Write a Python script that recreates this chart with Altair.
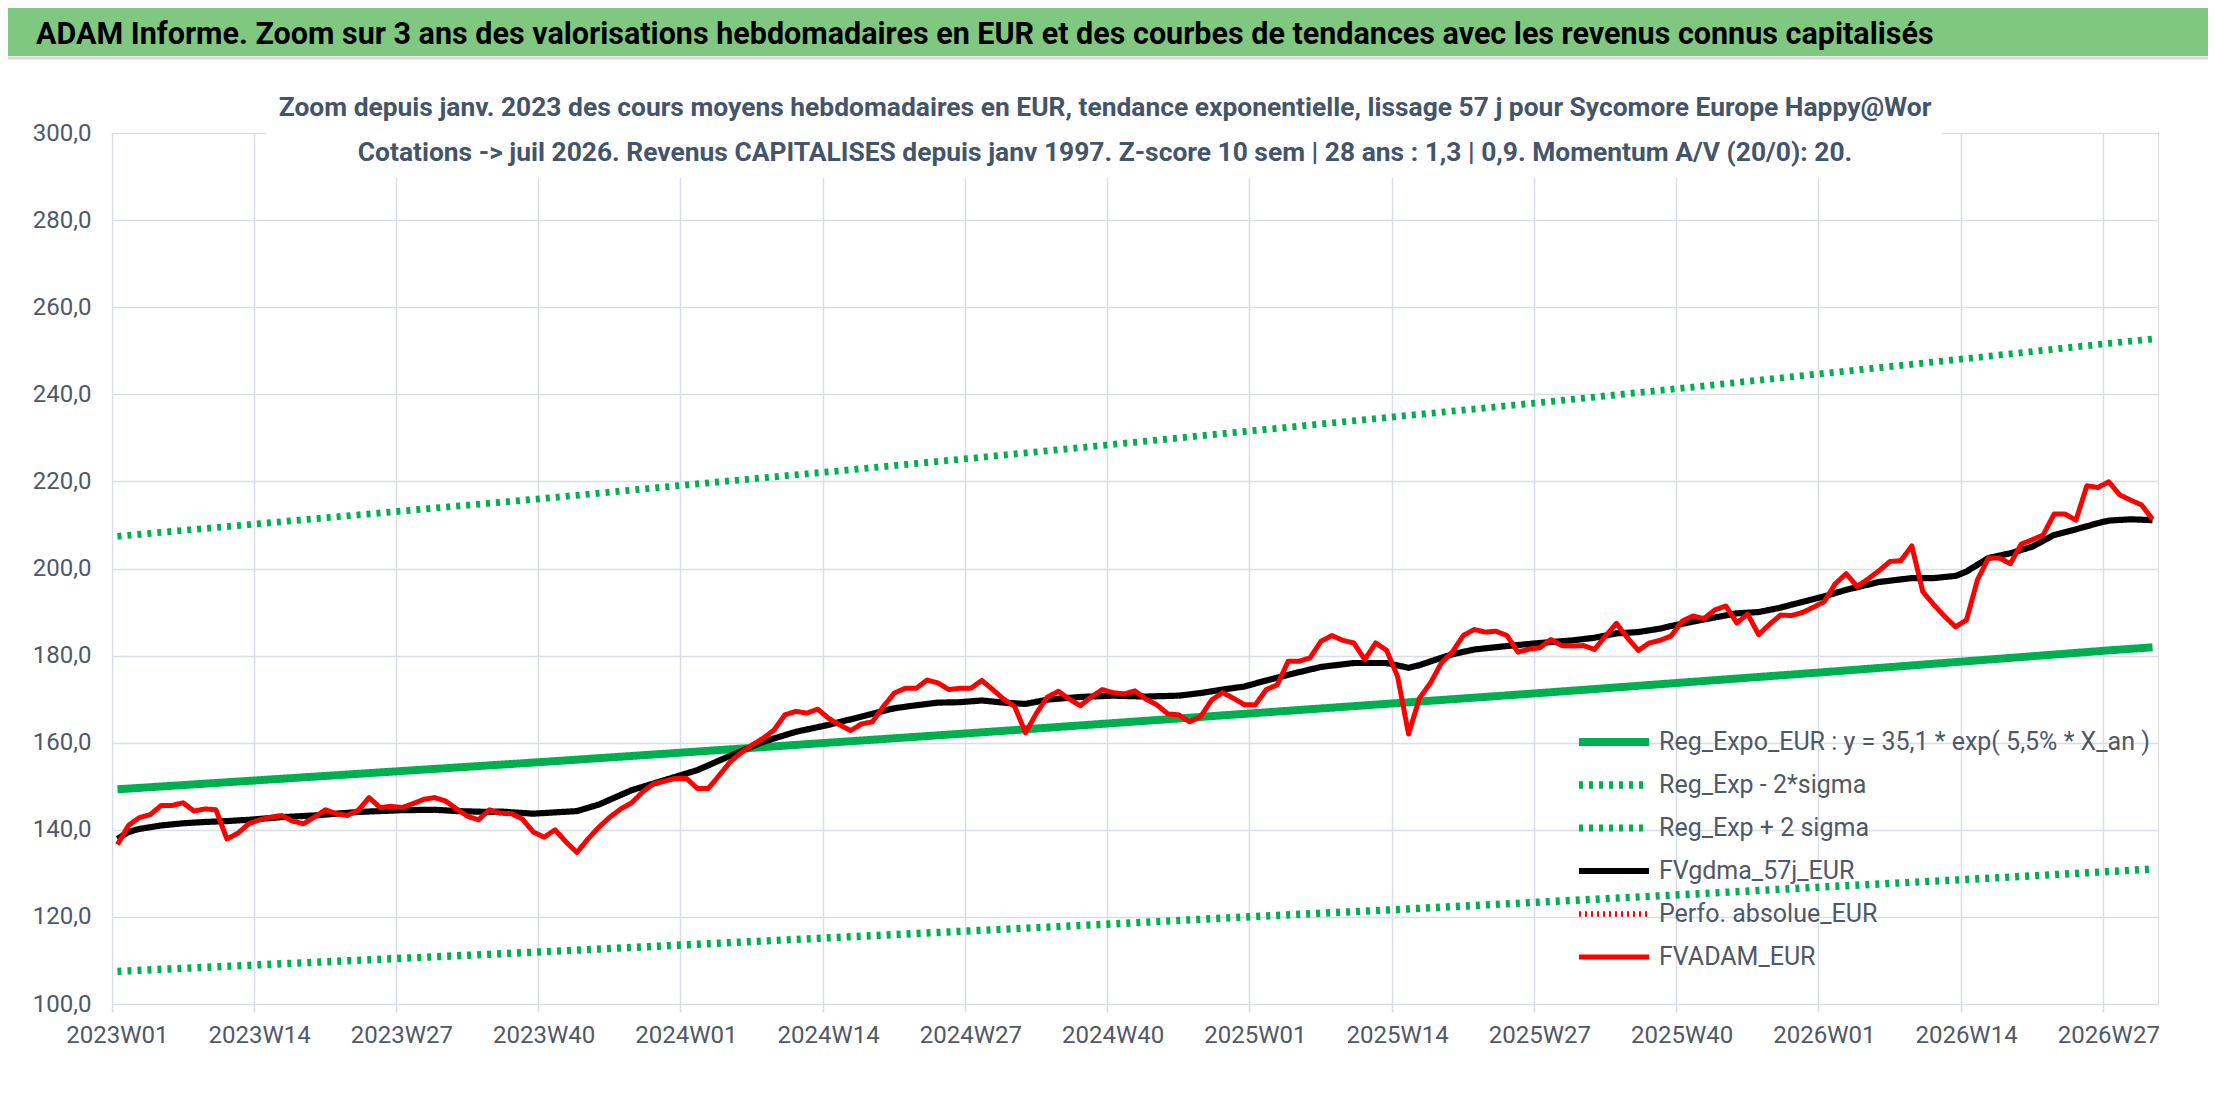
import datetime
import pandas as pd
import altair as alt

# ISO week categories 2023W01 .. 2026W31
start = datetime.date.fromisocalendar(2023, 1, 1)
weeks = []
for k in range(187):
    y, w, _ = (start + datetime.timedelta(weeks=k)).isocalendar()
    weeks.append(f"{y}W{w:02d}")

tick_weeks = ["2023W01", "2023W14", "2023W27", "2023W40", "2024W01", "2024W14",
              "2024W27", "2024W40", "2025W01", "2025W14", "2025W27", "2025W40",
              "2026W01", "2026W14", "2026W27"]

# FVADAM_EUR, one value per week
fvadam = [136.6, 141.0, 142.8, 143.5, 145.6, 145.6, 146.2, 144.3, 144.8, 144.6,
          137.9, 139.2, 141.4, 142.3, 142.9, 143.3, 142.0, 141.4, 142.9, 144.6,
          143.7, 143.3, 144.5, 147.4, 145.1, 145.4, 145.1, 146.0, 147.0, 147.4,
          146.6, 144.8, 143.1, 142.3, 144.6, 143.8, 143.7, 142.5, 139.5, 138.3,
          140.0, 137.2, 134.8, 137.9, 140.6, 142.9, 144.8, 146.2, 148.7, 150.6,
          151.2, 151.8, 151.8, 149.5, 149.5, 152.5, 155.6, 157.7, 159.5, 161.0,
          162.9, 166.4, 167.2, 166.8, 167.7, 165.6, 164.1, 162.8, 164.3, 164.8,
          168.3, 171.4, 172.5, 172.5, 174.4, 173.7, 172.2, 172.5, 172.5, 174.3,
          172.2, 170.0, 168.3, 162.3, 166.8, 170.5, 171.8, 170.0, 168.5, 170.5,
          172.2, 171.5, 171.2, 171.9, 170.0, 168.7, 166.6, 166.4, 164.8, 166.0,
          169.8, 171.5, 170.2, 168.7, 168.7, 172.2, 173.3, 178.7, 178.7, 179.5,
          183.3, 184.6, 183.5, 182.9, 179.1, 182.9, 181.2, 175.2, 162.0, 170.2,
          173.7, 178.3, 180.8, 184.6, 186.0, 185.4, 185.6, 184.6, 180.8, 181.5,
          181.8, 183.7, 182.3, 182.2, 182.3, 181.4, 184.5, 187.4, 184.1, 181.2,
          182.9, 183.5, 184.5, 187.9, 189.1, 188.5, 190.5, 191.4, 187.5, 189.5,
          184.8, 187.2, 189.3, 189.2, 189.9, 191.1, 192.4, 196.5, 198.8, 195.9,
          197.6, 199.5, 201.6, 201.8, 205.2, 194.7, 191.7, 189.0, 186.6, 188.2,
          197.4, 202.4, 202.4, 201.1, 205.6, 206.6, 207.7, 212.5, 212.5, 211.1,
          219.0, 218.6, 219.9, 216.9, 215.7, 214.6, 211.3]

# FVgdma_57j_EUR, read at these week positions
gdma_idx = [0, 1, 2, 4, 6, 8, 10, 12, 15, 18, 22, 26, 29, 31, 34, 35, 38, 42, 44,
            47, 50, 53, 56, 59, 62, 65, 68, 71, 73, 75, 77, 79, 81, 83, 85, 88, 91,
            94, 97, 99, 101, 103, 105, 107, 110, 113, 116, 118, 119, 121, 122, 124,
            127, 130, 133, 135, 137, 139, 141, 142, 145, 148, 150, 152, 153, 156,
            158, 161, 164, 166, 168, 169, 171, 173, 175, 177, 179, 181, 182, 184, 186]
gdma = [137.9, 139.5, 140.2, 141.0, 141.5, 141.8, 142.0, 142.3, 142.9, 143.3, 144.1,
        144.5, 144.6, 144.3, 144.1, 144.2, 143.7, 144.3, 145.8, 149.1, 151.4, 153.7,
        157.0, 160.2, 162.5, 164.1, 166.0, 167.9, 168.6, 169.2, 169.3, 169.7, 169.2,
        168.9, 169.9, 170.5, 170.8, 170.6, 170.8, 171.4, 172.2, 172.9, 174.3, 175.6,
        177.4, 178.3, 178.3, 177.2, 177.8, 179.5, 180.3, 181.4, 182.2, 182.9, 183.5,
        184.1, 185.1, 185.4, 186.2, 186.8, 188.3, 189.7, 190.0, 191.0, 191.7, 193.6,
        195.1, 196.9, 197.8, 197.8, 198.3, 199.3, 202.4, 203.5, 205.0, 207.7, 209.0,
        210.4, 211.0, 211.3, 211.1]

# trend curves, read at the labelled weeks and at the last week
trend_idx = [0, 13, 26, 39, 52, 65, 78, 91, 104, 117, 130, 143, 156, 169, 182, 186]
reg_expo = [149.3, 151.4, 153.5, 155.6, 157.8, 160.0, 162.2, 164.5, 166.8, 169.1,
            171.4, 173.8, 176.2, 178.7, 181.2, 181.9]
reg_minus = [107.5, 109.0, 110.5, 112.0, 113.6, 115.2, 116.8, 118.4, 120.1, 121.7,
             123.4, 125.1, 126.9, 128.6, 130.4, 131.0]
reg_plus = [207.4, 210.3, 213.2, 216.1, 219.2, 222.2, 225.3, 228.5, 231.7, 234.9,
            238.1, 241.4, 244.8, 248.2, 251.7, 252.7]

series = ["Reg_Expo_EUR : y = 35,1 * exp( 5,5% *  X_an )", "Reg_Exp - 2*sigma",
          "Reg_Exp + 2 sigma", "FVgdma_57j_EUR", "Perfo. absolue_EUR", "FVADAM_EUR"]
colors = ["#00B050", "#00B050", "#00B050", "#000000", "#FF0000", "#FF0000"]
dashes = [[1, 0], [4, 6], [4, 6], [1, 0], [2, 4], [1, 0]]
widths = [8, 5, 5, 5, 3, 6]

header = ("ADAM Informe. Zoom sur 3 ans des valorisations hebdomadaires en EUR "
          "et des courbes de tendances avec les revenus connus capitalisés")
sub1 = ("Zoom depuis janv. 2023 des cours moyens hebdomadaires en EUR, tendance "
        "exponentielle, lissage 57 j pour Sycomore Europe Happy@Wor")
sub2 = ("Cotations -> juil 2026. Revenus CAPITALISES depuis janv 1997. Z-score 10 sem"
        " | 28 ans : 1,3 | 0,9. Momentum A/V (20/0): 20.")

FONT = "Roboto"
GRID = "#D9DDE6"
LABEL = "#505866"


def frame(idx, vals, name):
    return pd.DataFrame({"week": [weeks[i] for i in idx], "value": vals, "series": name})


x_enc = alt.X("week:O", title=None,
              scale=alt.Scale(type="band", domain=weeks, paddingInner=0, paddingOuter=0),
              axis=alt.Axis(values=tick_weeks, bandPosition=0, labelAngle=0, grid=True,
                            gridColor=GRID, gridWidth=1.5, domain=False, tickColor=GRID,
                            tickWidth=1.5, tickSize=8, labelPadding=11, labelFontSize=24,
                            labelFont=FONT, labelColor=LABEL))
y_enc = alt.Y("value:Q", title=None,
              scale=alt.Scale(domain=[100, 300], nice=False, zero=False),
              axis=alt.Axis(values=list(range(100, 301, 20)), grid=True, gridColor=GRID,
                            gridWidth=1.5, domain=False, ticks=False, labelPadding=21,
                            labelFontSize=24, labelFont=FONT, labelColor=LABEL,
                            labelExpr="replace(format(datum.value, '.1f'), '.', ',')"))
color_enc = alt.Color("series:N", scale=alt.Scale(domain=series, range=colors),
                      legend=alt.Legend(title=None, orient="none", legendX=1463, legendY=594,
                                        symbolType="stroke", symbolSize=4900,
                                        labelFontSize=25, labelFont=FONT, labelColor=LABEL,
                                        labelLimit=0, labelOffset=6, rowPadding=13,
                                        clipHeight=30))
dash_enc = alt.StrokeDash("series:N", scale=alt.Scale(domain=series, range=dashes))
width_enc = alt.StrokeWidth("series:N", scale=alt.Scale(domain=series, range=widths))


def line(df):
    return alt.Chart(df).mark_line(strokeJoin="round").encode(
        x=x_enc, y=y_enc, color=color_enc, strokeDash=dash_enc, strokeWidth=width_enc)


layers = [
    line(frame(trend_idx, reg_expo, series[0])),
    line(frame(trend_idx, reg_minus, series[1])),
    line(frame(trend_idx, reg_plus, series[2])),
    line(frame(gdma_idx, gdma, series[3])),
    line(frame(range(len(fvadam)), fvadam, series[5])),
]

one = alt.Data(values=[{"k": 0}])
band = alt.Chart(one).mark_rect(color="#80C880").encode(
    x=alt.value(-104), x2=alt.value(2096), y=alt.value(-126), y2=alt.value(-77))
band_line = alt.Chart(one).mark_rule(color="#D9D9D9", strokeWidth=3).encode(
    x=alt.value(-104), x2=alt.value(2096), y=alt.value(-75))
box = alt.Chart(one).mark_rect(color="white").encode(
    x=alt.value(154), x2=alt.value(1830), y=alt.value(-12), y2=alt.value(45))
head_txt = alt.Chart(one).mark_text(
    text=header, font=FONT, fontSize=30.5, fontWeight="bold", color="black",
    align="left", baseline="alphabetic").encode(x=alt.value(-76), y=alt.value(-89))
sub1_txt = alt.Chart(one).mark_text(
    text=sub1, font=FONT, fontSize=26.4, fontWeight="bold", color="#44546A",
    align="center", baseline="alphabetic").encode(x=alt.value(993), y=alt.value(-17))
sub2_txt = alt.Chart(one).mark_text(
    text=sub2, font=FONT, fontSize=26.4, fontWeight="bold", color="#44546A",
    align="center", baseline="alphabetic").encode(x=alt.value(993), y=alt.value(28))

chart = alt.layer(band, band_line, *layers, box, head_txt, sub1_txt, sub2_txt).properties(
    width=2046, height=871,
    autosize=alt.AutoSizeParams(type="none"),
    padding={"left": 104, "top": 125, "right": 50, "bottom": 90},
).configure_view(stroke=None).configure(background="white")

chart.save("out.html", embed_options={"renderer": "svg", "actions": False})
